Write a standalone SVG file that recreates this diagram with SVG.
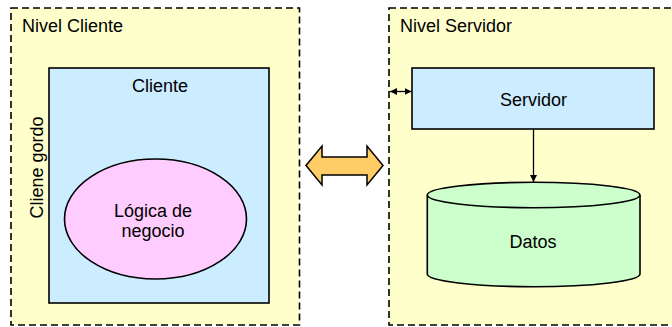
<svg xmlns="http://www.w3.org/2000/svg" width="672" height="327" viewBox="0 0 672 327">
<style>
.panel{fill:#FFFFCC;stroke:#000;stroke-width:1.6;stroke-dasharray:7 4}
.box{stroke:#000;stroke-width:1.6}
.t{font-family:"Liberation Sans",Arial,sans-serif;font-size:18px;fill:#000}
.c{text-anchor:middle}
.line{stroke:#000;stroke-width:1.3;fill:none}
</style>
<defs>
<marker id="ah" viewBox="0 0 10 10" refX="10" refY="5" markerWidth="7" markerHeight="7" markerUnits="userSpaceOnUse" orient="auto-start-reverse">
<path d="M0,0 L10,5 L0,10 Z" fill="#000"/>
</marker>
</defs>
<rect width="672" height="327" fill="#fff"/>
<g id="nivel-cliente">
<rect class="panel" x="11" y="8" width="288.5" height="317"/>
<text class="t" x="22" y="32">Nivel Cliente</text>
<text class="t c" transform="translate(42.5,167.5) rotate(-90)">Cliene gordo</text>
</g>
<g id="cliente">
<rect class="box" x="49" y="68" width="220" height="235" fill="#CCECFF"/>
<text class="t c" x="160" y="92">Cliente</text>
</g>
<g id="logica">
<ellipse class="box" cx="155.5" cy="219" rx="91" ry="60" fill="#FFCCFF"/>
<text class="t c" x="153" y="216.5">Lógica de</text>
<text class="t c" x="153" y="237">negocio</text>
</g>
<g id="nivel-servidor">
<rect class="panel" x="389" y="8" width="300" height="317"/>
<text class="t" x="400" y="32">Nivel Servidor</text>
</g>
<g id="servidor">
<rect class="box" x="412" y="68" width="242" height="61" fill="#CCECFF"/>
<text class="t c" x="533.5" y="105.5">Servidor</text>
</g>
<g id="datos">
<path class="box" d="M427.3,195 L427.3,274 A106.3,12.7 0 0 0 640,274 L640,195" fill="#CCFFCC"/>
<ellipse class="box" cx="533.6" cy="195" rx="106.3" ry="12.7" fill="#CCFFCC"/>
<text class="t c" x="533" y="247.5">Datos</text>
</g>
<g id="connectors">
<path d="M306,165.5 L322,146 L322,157 L367,157 L367,146 L383,165.5 L367,185 L367,175 L322,175 L322,185 Z" fill="#FFCC66" stroke="#000" stroke-width="1.5" stroke-linejoin="miter"/>
<line class="line" x1="390" y1="91.5" x2="411.5" y2="91.5" marker-start="url(#ah)" marker-end="url(#ah)"/>
<line class="line" x1="533.5" y1="129" x2="533.5" y2="182" marker-end="url(#ah)"/>
</g>
</svg>
